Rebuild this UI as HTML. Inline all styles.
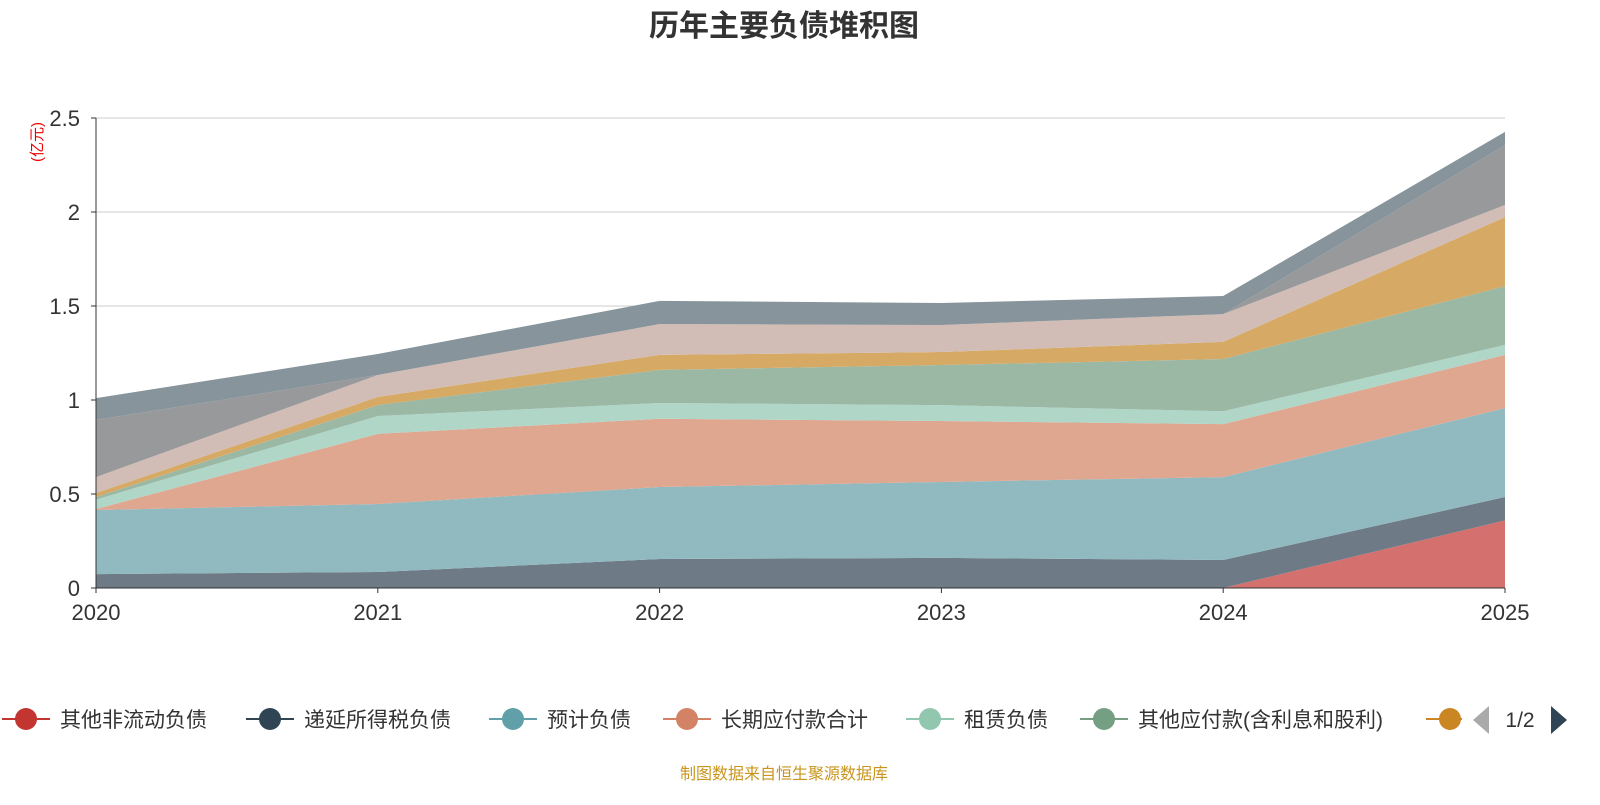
<!DOCTYPE html>
<html><head><meta charset="utf-8"><style>
body{margin:0;background:#fff;width:1600px;height:800px;overflow:hidden;font-family:"Liberation Sans","Noto Sans CJK SC",sans-serif}
</style></head><body>
<svg id="c" width="1600" height="800" xmlns="http://www.w3.org/2000/svg">
<text x="784" y="36" text-anchor="middle" font-size="30" font-weight="bold" fill="#333">历年主要负债堆积图</text>
<text transform="translate(42,142) rotate(-90)" text-anchor="middle" font-size="15" fill="#e00">(亿元)</text>
<g id="grid"></g><g id="areas"></g><g id="axes"></g><g id="legend"></g>
<text x="784" y="779" text-anchor="middle" font-size="16" fill="#c8961e">制图数据来自恒生聚源数据库</text>
</svg>
<script>
const years=["2020","2021","2022","2023","2024","2025"];
const yTicks=[0,0.5,1,1.5,2,2.5];
const yTickLabels=["0","0.5","1","1.5","2","2.5"];
const seriesNames=["其他非流动负债","递延所得税负债","预计负债","长期应付款合计","租赁负债","其他应付款(含利息和股利)","应付职工薪酬","应付票据","应付账款","其他"];
const s1=[0,0,0,0,0,0.36];
const s2=[0.074,0.085,0.154,0.16,0.149,0.124];
const s3=[0.341,0.362,0.383,0.404,0.441,0.473];
const s4=[0.005,0.373,0.363,0.324,0.282,0.283];
const s5=[0.05,0.095,0.084,0.085,0.068,0.053];
const s6=[0.014,0.058,0.176,0.213,0.278,0.313];
const s7=[0.021,0.043,0.08,0.069,0.091,0.367];
const s8=[0.085,0.117,0.164,0.144,0.148,0.064];
const s9=[0.304,0,0,0,0,0.319];
const s10=[0.116,0.112,0.123,0.117,0.096,0.07];
const series=[s1,s2,s3,s4,s5,s6,s7,s8,s9,s10];
const fills=["#d4706e","#6e7b86","#91bac0","#dfa690","#b0d6c8","#9bb8a5","#d6a964","#d1bdb6","#98999b","#87949b"];
const strokes=["#c23531","#2f4554","#61a0a8","#d48265","#91c7ae","#749f83","#ca8622","#bda29a","#6e7074","#546570"];
const NS="http://www.w3.org/2000/svg";
const X0=96,X1=1505,Y0=588,Ymax=2.5,Ytop=118;
const xs=i=>X0+(X1-X0)*i/(years.length-1);
const ys=v=>Y0-(Y0-Ytop)*v/Ymax;
function mk(tag,attrs,parent){const e=document.createElementNS(NS,tag);for(const k in attrs)e.setAttribute(k,attrs[k]);parent.appendChild(e);return e;}
const grid=document.getElementById('grid'),areas=document.getElementById('areas'),axes=document.getElementById('axes'),leg=document.getElementById('legend');
yTicks.forEach((t,i)=>{
  if(t>0){const l=mk('line',{x1:X0,x2:X1,y1:ys(t),y2:ys(t),stroke:'#ccc','stroke-width':1},grid);
  
  }
  const tx=mk('text',{x:80,y:ys(t)+8,'text-anchor':'end','font-size':22,fill:'#333'},axes);tx.textContent=yTickLabels[i];
  
  
  mk('line',{x1:X0-5,x2:X0,y1:ys(t),y2:ys(t),stroke:'#333'},axes);
});
let cum=years.map(()=>0);
series.forEach((s,k)=>{
  const lower=cum.slice();cum=cum.map((c,i)=>c+s[i]);
  let d='M'+years.map((_,i)=>xs(i)+','+ys(cum[i])).join(' L');
  for(let i=years.length-1;i>=0;i--)d+=' L'+xs(i)+','+ys(lower[i]);d+='Z';
  const p=mk('path',{d:d,fill:fills[k],stroke:'none'},areas);
  
  
});
mk('line',{x1:X0,x2:X0,y1:Ytop,y2:Y0,stroke:'#333'},axes);
mk('line',{x1:X0,x2:X1,y1:Y0,y2:Y0,stroke:'#333'},axes);
years.forEach((y,i)=>{
  mk('line',{x1:xs(i),x2:xs(i),y1:Y0,y2:Y0+5,stroke:'#333'},axes);
  const t=mk('text',{x:xs(i),y:620,'text-anchor':'middle','font-size':22,fill:'#333'},axes);t.textContent=y;
  
  
});
const legX=[26,270,513,687,930,1104,1450];
for(let k=0;k<7;k++){
  const g=mk('g',{},leg);
  
  
  const cx=legX[k];
  mk('line',{x1:cx-24,x2:cx+24,y1:719,y2:719,stroke:strokes[k],'stroke-width':2},g);
  mk('circle',{cx:cx,cy:719,r:11,fill:strokes[k]},g);
  if(k<6){const t=mk('text',{x:cx+34,y:727,'font-size':21,fill:'#333'},g);t.textContent=seriesNames[k];}
}
mk('rect',{x:1462,y:690,width:140,height:60,fill:'#fff'},leg);
const pp=mk('polygon',{points:'1489,706 1489,734 1473,720',fill:'#aaa'},leg);


const pt=mk('text',{x:1520,y:727,'text-anchor':'middle','font-size':21,fill:'#333'},leg);pt.textContent='1/2';


const pn=mk('polygon',{points:'1551,706 1551,734 1567,720',fill:'#2f4554'},leg);


</script>
</body></html>
